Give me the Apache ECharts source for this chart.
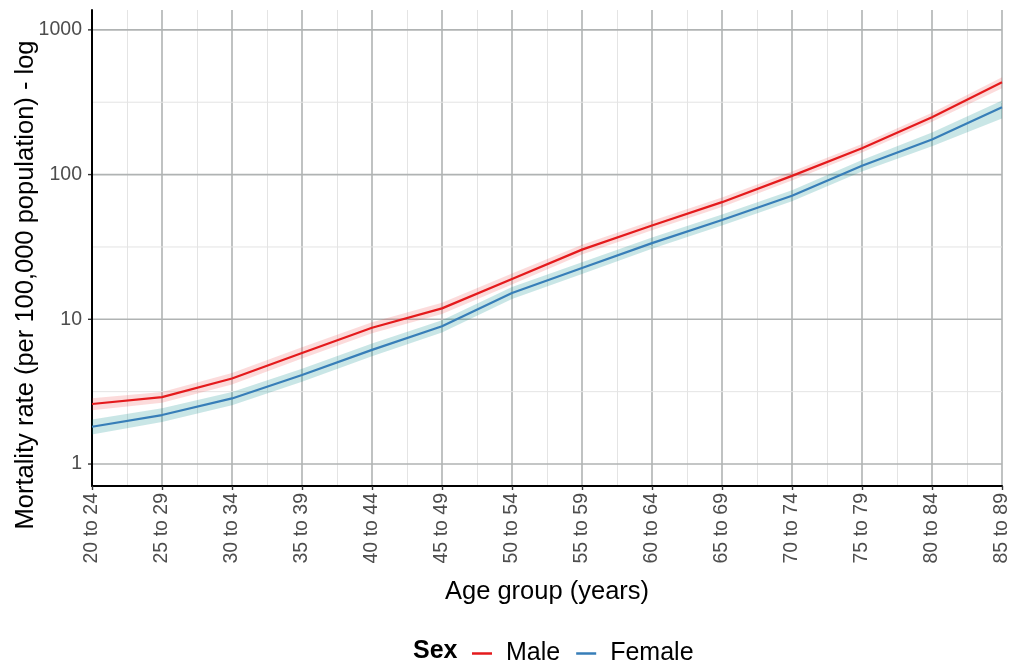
<!DOCTYPE html>
<html>
<head>
<meta charset="utf-8">
<script src="https://cdn.jsdelivr.net/npm/echarts@6/dist/echarts.min.js"></script>
<style>
  html, body { margin: 0; padding: 0; background: #ffffff; }
  #chart { width: 1014px; height: 663px; }
</style>
</head>
<body>
<div id="chart"></div>
<script>
// Age groups on the x axis
const ageGroups = ['20 to 24', '25 to 29', '30 to 34', '35 to 39', '40 to 44', '45 to 49', '50 to 54',
  '55 to 59', '60 to 64', '65 to 69', '70 to 74', '75 to 79', '80 to 84', '85 to 89'];

// Mortality rate per 100,000 population, with uncertainty bounds
const maleRate  = [2.6, 2.9, 3.9, 5.85, 8.75, 11.9, 19.0, 30.3, 44.5, 64.5, 98, 152, 249, 434];
const maleLower = [2.35, 2.65, 3.55, 5.35, 8.0, 10.9, 17.4, 28.0, 41.2, 59.8, 91, 142, 232, 395];
const maleUpper = [2.85, 3.15, 4.25, 6.4, 9.55, 13.0, 20.7, 32.8, 48.0, 69.5, 105, 163, 268, 470];

const femaleRate  = [1.81, 2.18, 2.84, 4.12, 6.15, 8.95, 15.2, 22.6, 33.6, 48.6, 71.5, 115, 175, 292];
const femaleLower = [1.6, 1.95, 2.55, 3.7, 5.55, 8.1, 13.8, 20.6, 30.7, 44.5, 65.5, 105, 157, 244];
const femaleUpper = [2.03, 2.43, 3.15, 4.55, 6.8, 9.85, 16.7, 24.8, 36.8, 53.0, 78, 126, 195, 325];

// Log-axis gridlines: decades and their log-midpoints
const yMajorBreaks = [1, 10, 100, 1000];
const yMinorBreaks = [3.1623, 31.623, 316.23];

const FONT = '"Liberation Sans", Arial, Helvetica, sans-serif';
const COLORS = { male: '#e41a1c', female: '#377eb8',
  maleBand: 'rgba(240,40,40,0.17)', femaleBand: 'rgba(0,139,139,0.21)' };

const chart = echarts.init(document.getElementById('chart'), null, { renderer: 'canvas' });

function pairs(arr) { return arr.map((v, i) => [i, v]); }

// Ribbon between lower and upper bound, drawn as one polygon
function bandSeries(name, lower, upper, color) {
  return {
    type: 'custom', name: name + ' band', z: 1, silent: true, legendHoverLink: false,
    data: lower.map((v, i) => [i, v, upper[i]]),
    renderItem: function (params, api) {
      if (params.dataIndex !== 0) return null;
      const pts = [];
      for (let i = 0; i < upper.length; i++) pts.push(api.coord([i, upper[i]]));
      for (let i = lower.length - 1; i >= 0; i--) pts.push(api.coord([i, lower[i]]));
      return { type: 'polygon', shape: { points: pts }, style: { fill: color, stroke: null } };
    }
  };
}

// Horizontal gridlines (and tick marks for the major ones)
function hGridSeries(values, major) {
  return {
    type: 'custom', z: 0, silent: true, clip: false,
    data: values.map(v => [0, v]),
    renderItem: function (params, api) {
      const v = api.value(1);
      const a = api.coord([0, v]);
      const b = api.coord([ageGroups.length - 1, v]);
      const children = [{
        type: 'line', shape: { x1: a[0], y1: a[1], x2: b[0], y2: b[1] },
        style: { stroke: major ? '#b0b3b3' : '#e4e4e4', lineWidth: major ? 1.6 : 1 }
      }];
      if (major) {
        children.push({
          type: 'line', shape: { x1: a[0] - 4, y1: a[1], x2: a[0], y2: a[1] },
          style: { stroke: '#333333', lineWidth: 1.4 }
        });
      }
      return { type: 'group', children: children };
    }
  };
}

const option = {
  backgroundColor: '#ffffff',
  animation: false,
  grid: { left: 92, right: 12, top: 10, bottom: 177, containLabel: false },
  xAxis: {
    type: 'value', min: 0, max: ageGroups.length - 1, interval: 1,
    name: 'Age group (years)', nameLocation: 'middle', nameGap: 93,
    nameTextStyle: { fontFamily: FONT, fontSize: 25.5, color: '#000000' },
    axisLine: { show: true, onZero: false, lineStyle: { color: '#000000', width: 2 } },
    axisTick: { show: true, length: 4, lineStyle: { color: '#333333', width: 1.4 } },
    axisLabel: {
      rotate: 90, margin: 7, fontFamily: FONT, fontSize: 19.5, color: '#4d4d4d',
      formatter: function (v) { return ageGroups[Math.round(v)] || ''; }
    },
    splitLine: { show: true, lineStyle: { color: '#b0b3b3', width: 1.6 } },
    minorTick: { show: false, splitNumber: 2 },
    minorSplitLine: { show: true, lineStyle: { color: '#e4e4e4', width: 1 } }
  },
  yAxis: {
    type: 'log', logBase: 10, min: 0.705, max: 1372,
    axisLine: { show: true, lineStyle: { color: '#000000', width: 2 } },
    axisTick: { show: false },
    splitLine: { show: false },
    axisLabel: {
      margin: 10, fontFamily: FONT, fontSize: 19.5, color: '#4d4d4d',
      showMinLabel: false, showMaxLabel: false,
      formatter: function (v) {
        return yMajorBreaks.some(b => Math.abs(b - v) / b < 1e-6) ? String(Math.round(v)) : '';
      }
    }
  },
  legend: {
    data: ['Male', 'Female'],
    top: 636, left: 467,
    icon: 'rect', itemWidth: 20, itemHeight: 2.5, itemGap: 16,
    textStyle: { fontFamily: FONT, fontSize: 25, color: '#000000', padding: [0, 0, 0, 9] },
    selectedMode: false
  },
  graphic: [
    {
      type: 'text', x: 26, y: 285, rotation: Math.PI / 2,
      style: {
        text: 'Mortality rate (per 100,000 population) - log',
        font: '25.5px ' + FONT, fill: '#000000', textAlign: 'center', textVerticalAlign: 'middle'
      }
    },
    {
      type: 'text', left: 413, top: 639,
      style: { text: 'Sex', font: 'bold 25px ' + FONT, fill: '#000000' }
    }
  ],
  series: [
    hGridSeries(yMinorBreaks, false),
    hGridSeries(yMajorBreaks, true),
    bandSeries('Male', maleLower, maleUpper, COLORS.maleBand),
    bandSeries('Female', femaleLower, femaleUpper, COLORS.femaleBand),
    {
      name: 'Male', type: 'line', z: 3, data: pairs(maleRate), showSymbol: false, symbol: 'none',
      color: COLORS.male, lineStyle: { color: COLORS.male, width: 2.2 }
    },
    {
      name: 'Female', type: 'line', z: 3, data: pairs(femaleRate), showSymbol: false, symbol: 'none',
      color: COLORS.female, lineStyle: { color: COLORS.female, width: 2.2 }
    }
  ]
};

chart.setOption(option);
</script>
</body>
</html>
